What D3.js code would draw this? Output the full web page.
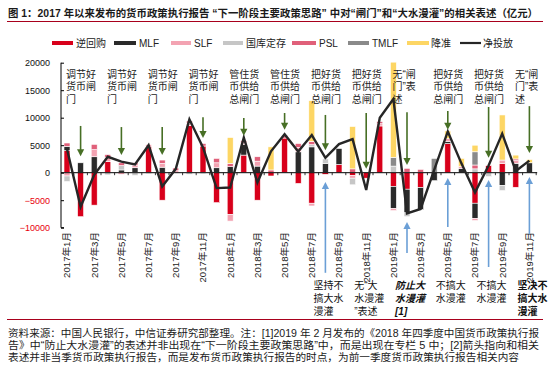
<!DOCTYPE html>
<html><head><meta charset="utf-8">
<script src="https://cdn.jsdelivr.net/npm/d3@7/dist/d3.min.js"></script>
<style>
body{margin:0;background:#fff;}
svg{display:block;font-family:"Liberation Sans","Noto Sans CJK SC",sans-serif;}
</style>
</head><body>
<svg id="c" width="552" height="381"></svg>
<script>
// ---------------- data ----------------
const months = ["2017年1月","2017年2月","2017年3月","2017年4月","2017年5月","2017年6月","2017年7月","2017年8月","2017年9月","2017年10月","2017年11月","2017年12月",
"2018年1月","2018年2月","2018年3月","2018年4月","2018年5月","2018年6月","2018年7月","2018年8月","2018年9月","2018年10月","2018年11月","2018年12月",
"2019年1月","2019年2月","2019年3月","2019年4月","2019年5月","2019年6月","2019年7月","2019年8月","2019年9月","2019年10月","2019年11月"];

const seriesNames = ["逆回购","MLF","SLF","国库定存","PSL","TMLF","降准"];
const netName = "净投放";

const reverseRepo = [4000,-8000,-5900,2000,0,0,4700,-5000,0,8600,4850,-5450,-7600,3200,-5000,-600,6300,-1950,-5550,-300,1500,-500,-1000,8500,-2500,-3000,-2700,0,5300,0,-5550,1300,1700,-2650,0];
const mlf         = [800,1800,2900,0,500,900,0,1000,0,0,0,900,1100,1900,1200,0,0,3800,4700,1700,2900,0,0,0,-4000,-4300,-4000,-1450,400,800,-2750,0,-2300,1700,1800];
const slf         = [-600,0,1300,800,-300,500,400,700,350,400,0,900,-1200,300,900,0,0,800,-500,0,0,-500,0,400,-400,0,0,0,500,300,-400,0,600,500,0];
const treasuryDep = [-1000,0,0,-400,800,-500,-200,0,0,-300,-200,0,0,0,0,0,0,0,400,800,0,-1200,0,0,1200,-700,0,0,0,0,700,-700,-950,0,0];
const psl         = [600,0,950,500,500,400,0,600,500,400,450,800,600,400,800,500,500,700,600,0,0,700,0,400,0,800,600,0,0,0,700,0,0,300,0];
const tmlf        = [0,0,0,0,0,0,0,0,0,0,0,0,0,0,0,0,0,0,0,0,0,0,0,0,1600,0,0,2600,0,0,2400,0,0,0,0];
const rrrCut      = [0,0,0,0,0,0,0,0,0,0,0,0,4700,0,0,4200,0,0,7400,0,0,7700,0,0,17300,0,0,0,1400,1500,1200,0,8200,700,600];
const netInjection= [4300,-6200,-400,2900,2000,1500,5000,-2500,700,9700,4600,-2800,-2700,6400,-1800,3900,7000,3850,6850,2700,5200,6100,-3150,10000,13400,-7400,-6600,500,7500,1700,-3600,1300,7100,300,2200];

const yTicks = [-10000,-5000,0,5000,10000,15000,20000];

const topNotes = [
  {m:1,  lines:["调节好","货币闸","门"],   tail:8500,  tip:3000},
  {m:4,  lines:["调节好","货币闸","门"],   tail:8300,  tip:3200},
  {m:7,  lines:["调节好","货币闸","门"],   tail:8300,  tip:3200},
  {m:10, lines:["调节好","货币闸","门"],   tail:10100, tip:6300},
  {m:13, lines:["管住货","币供给","总闸门"], tail:9950,  tip:6700},
  {m:16, lines:["管住货","币供给","总闸门"], tail:10850, tip:7800},
  {m:19, lines:["把好货","币供给","总闸门"], tail:10500, tip:4100},
  {m:22, lines:["把好货","币供给","总闸门"], tail:10850, tip:700},
  {m:25, lines:["无“闸","门”表","述"],     tail:11000, tip:1400},
  {m:28, lines:["把好货","币供给","总闸门"], tail:11200, tip:7800},
  {m:31, lines:["把好货","币供给","总闸门"], tail:11950, tip:2700},
  {m:34, lines:["无“闸","门”表","述"],     tail:12100, tip:3600}
];
const bottomNotes = [
  {m:19, lines:["坚持不","搞大水","漫灌"], tip:-1700, tail:-18200, weight:"normal", italic:false},
  {m:22, lines:["无“大","水漫灌","”表述"], tip:null,  tail:null,   weight:"normal", italic:false},
  {m:25, lines:["防止大","水漫灌","[1]"],  tip:-8960, tail:-14600, weight:"bold",   italic:true},
  {m:28, lines:["不搞大","水漫灌"],        tip:-960,  tail:-9870,  weight:"normal", italic:false},
  {m:31, lines:["不搞大","水漫灌"],        tip:-1330, tail:-17150, weight:"normal", italic:false},
  {m:34, lines:["坚决不","搞大水","漫灌"], tip:-780,  tail:-11150, weight:"bold",   italic:false}
];

const titleText = "图 1：2017 年以来发布的货币政策执行报告 “下一阶段主要政策思路” 中对“闸门”和“大水漫灌”的相关表述（亿元）";
const noteLines = [
  "资料来源：中国人民银行，中信证券研究部整理。注：[1]2019 年 2 月发布的《2018 年四季度中国货币政策执行报",
  "告》中“防止大水漫灌”的表述并非出现在“下一阶段主要政策思路”中，而是出现在专栏 5 中；[2]箭头指向和相关",
  "表述并非当季货币政策执行报告，而是发布货币政策执行报告的时点，为前一季度货币政策执行报告相关内容"
];

// ---------------- styles ----------------
const colors = {"逆回购":"#d8001b","MLF":"#2a2a2a","SLF":"#f3a3b2","国库定存":"#c6c6c6","PSL":"#e0607a","TMLF":"#8a8a8a","降准":"#fdd664","净投放":"#262626"};
const seriesArrays = [reverseRepo, mlf, slf, treasuryDep, psl, tmlf, rrrCut];

const svg = d3.select("#c");

const rows = months.map((m,i)=>{
  const r = {month:m};
  seriesNames.forEach((k,j)=>{ r[k] = seriesArrays[j][i]; });
  return r;
});

const x = d3.scaleBand().domain(months).range([60.2, 536.2]).padding(0);
const y = d3.scaleLinear().domain([-10000, 20000]).range([227.7, 62.7]);
const bw = x.bandwidth();
const cx = i => x(months[i]) + bw/2;
const barW = 6;

// title
svg.append("text").attr("x",8).attr("y",17).attr("font-size",10.4).attr("font-weight","bold")
  .attr("fill","#1a1a1a").attr("textLength",530).attr("lengthAdjust","spacing").text(titleText);
svg.append("line").attr("x1",7).attr("x2",543).attr("y1",21.5).attr("y2",21.5).attr("stroke","#a8001c").attr("stroke-width",1.2);

// legend
const legendX = [[52,73,76],[114,136,139],[171,191,194],[223,243,246],[292,316,319],[348,369,372],[407,429,431],[460,481,483]];
const legendKeys = seriesNames.concat([netName]);
const lg = svg.append("g");
legendKeys.forEach((k,i)=>{
  const [a,b,t] = legendX[i];
  lg.append("line").attr("x1",a).attr("x2",b).attr("y1",43).attr("y2",43)
    .attr("stroke",colors[k]).attr("stroke-width", k===netName?2.2:4);
  lg.append("text").attr("x",t).attr("y",46.5).attr("font-size",10).attr("fill","#222").text(k);
});

// stacked bars
const stack = d3.stack().keys(seriesNames).offset(d3.stackOffsetDiverging);
const stacked = stack(rows);
const gb = svg.append("g");
stacked.forEach(layer=>{
  gb.selectAll(null).data(layer.map((d,i)=>({d,i})).filter(o=>o.d[0]!==o.d[1]))
    .enter().append("rect")
    .attr("x",o=>cx(o.i)-barW/2)
    .attr("width",barW)
    .attr("y",o=>y(Math.max(o.d[0],o.d[1])))
    .attr("height",o=>Math.abs(y(o.d[0])-y(o.d[1])))
    .attr("fill",colors[layer.key])
    .attr("stroke","#fff").attr("stroke-width",0.6);
});

// y axis
const yAxis = d3.axisLeft(y).tickValues(yTicks).tickSize(-3).tickPadding(11).tickFormat(d3.format("d"));
const ga = svg.append("g").attr("transform","translate(61,0)").call(yAxis);
ga.select(".domain").attr("stroke","#000").attr("stroke-width",1).attr("d","M0,"+y(20000)+"V"+y(-10000)+"h3");
ga.selectAll(".tick line").attr("stroke","#000");
ga.selectAll(".tick text").attr("font-size",9).attr("font-family","Liberation Sans, sans-serif")
  .attr("fill",d=>d<0?"#e8000b":"#111");

// x axis zero line + small ticks at band edges
const gx = svg.append("g");
gx.append("line").attr("x1",61).attr("x2",x.range()[1]+1).attr("y1",y(0)).attr("y2",y(0)).attr("stroke","#000").attr("stroke-width",1);
months.forEach((m,i)=>{
  gx.append("line").attr("x1",x(m)+bw).attr("x2",x(m)+bw).attr("y1",y(0)).attr("y2",y(0)+2.5).attr("stroke","#000").attr("stroke-width",0.8);
});

// month labels (every other month)
months.forEach((m,i)=>{
  if(i%2!==0) return;
  svg.append("text").attr("transform","translate("+cx(i)+",232) rotate(-90)")
    .attr("text-anchor","end").attr("dy","0.35em").attr("font-size",9.6).attr("fill","#222").text(m);
});

// net line
const line = d3.line().x((d,i)=>cx(i)).y(d=>y(d));
svg.append("path").datum(netInjection).attr("d",line).attr("fill","none")
  .attr("stroke",colors[netName]).attr("stroke-width",2.4).attr("stroke-linejoin","miter");

// top annotations (green arrows)
const green = "#476f25";
topNotes.forEach(a=>{
  const xx = cx(a.m);
  const yt = y(a.tip), ys = y(a.tail);
  svg.append("line").attr("x1",xx).attr("x2",xx).attr("y1",ys).attr("y2",yt-5).attr("stroke",green).attr("stroke-width",1.6);
  svg.append("path").attr("d",`M${xx-3.6},${yt-7}L${xx+3.6},${yt-7}L${xx},${yt}Z`).attr("fill",green);
  a.lines.forEach((t,k)=>{
    svg.append("text").attr("x",xx-14.5).attr("y",77.5+k*12.5).attr("font-size",10).attr("fill","#222").text(t);
  });
});

// bottom annotations (blue arrows)
const blue = "#6b9fd6";
bottomNotes.forEach(a=>{
  const xx = cx(a.m);
  if(a.tip!==null){
    const yt = y(a.tip), ys = y(a.tail);
    svg.append("line").attr("x1",xx).attr("x2",xx).attr("y1",ys).attr("y2",yt+5).attr("stroke",blue).attr("stroke-width",1.6);
    svg.append("path").attr("d",`M${xx-3.6},${yt+7}L${xx+3.6},${yt+7}L${xx},${yt}Z`).attr("fill",blue);
  }
  a.lines.forEach((t,k)=>{
    svg.append("text").attr("x",xx-12).attr("y",289+k*13).attr("font-size",10)
      .attr("font-weight",a.weight).attr("font-style",a.italic?"italic":"normal")
      .attr("fill","#111").text(t);
  });
});

// bottom rule + notes
svg.append("line").attr("x1",7).attr("x2",543).attr("y1",319.5).attr("y2",319.5).attr("stroke","#a8001c").attr("stroke-width",1);
const noteLens = [531,531,511];
noteLines.forEach((t,k)=>{
  svg.append("text").attr("x",8).attr("y",336.5+k*12.2).attr("font-size",10).attr("fill","#1a1a1a")
    .attr("textLength",noteLens[k]).attr("lengthAdjust","spacingAndGlyphs").text(t);
});
</script>
</body></html>
